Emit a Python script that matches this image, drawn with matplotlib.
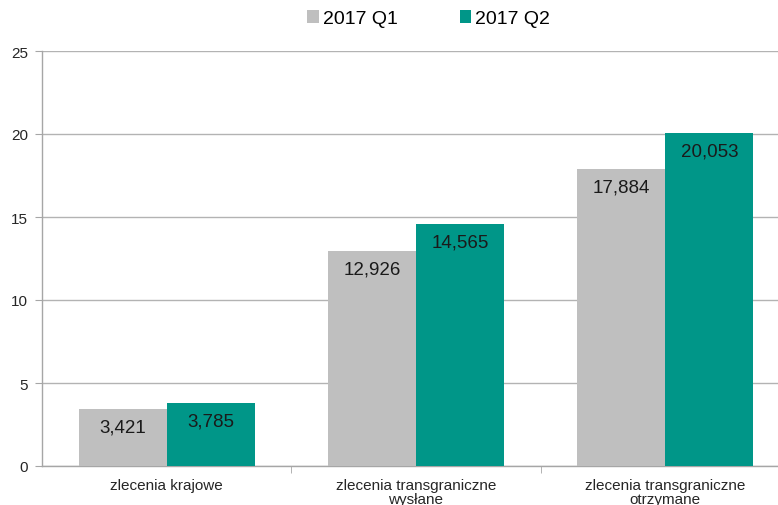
import numpy as np
import matplotlib.pyplot as plt
from matplotlib import rcParams

rcParams['font.family'] = ['Liberation Sans', 'DejaVu Sans']

categories = ['zlecenia krajowe', 'zlecenia transgraniczne\nwysłane',
              'zlecenia transgraniczne\notrzymane']
q1 = [3.421, 12.926, 17.884]
q2 = [3.785, 14.565, 20.053]
series_names = ['2017 Q1', '2017 Q2']
colors = ['#bfbfbf', '#009688']

fig = plt.figure(figsize=(7.78, 5.06), dpi=100)
ax = fig.add_axes([42 / 778, 39 / 506, 748 / 778, 415 / 506])

x = np.arange(len(categories))
w = 0.353
b1 = ax.bar(x - w / 2, q1, w, color=colors[0], label=series_names[0], zorder=3)
b2 = ax.bar(x + w / 2, q2, w, color=colors[1], label=series_names[1], zorder=3)

# value labels inside the bar tops, comma as decimal separator
for bars, vals in [(b1, q1), (b2, q2)]:
    for rect, v in zip(bars, vals):
        ax.annotate(f'{v:.3f}'.replace('.', ','),
                    xy=(rect.get_x() + rect.get_width() / 2, v),
                    xytext=(0, -18), textcoords='offset pixels',
                    ha='center', va='center', fontsize=13.5, color='#1a1a1a', zorder=4)

ax.set_xlim(-0.5, 2.5)
ax.set_ylim(0, 25)
ax.set_yticks(range(0, 26, 5))
ax.yaxis.grid(True, color='#b3b3b3', linewidth=1, zorder=0)
ax.set_xticks(x)
ax.set_xticklabels(categories, fontsize=11, color='#262626', linespacing=0.95)
ax.set_xticks([0.5, 1.5], minor=True)
ax.tick_params(axis='x', which='major', length=0, pad=9)
ax.tick_params(axis='x', which='minor', length=5, color='#a6a6a6')
ax.tick_params(axis='y', length=5, color='#a6a6a6', labelsize=11, labelcolor='#262626', pad=5)

for s in ['top', 'right']:
    ax.spines[s].set_visible(False)
for s in ['left', 'bottom']:
    ax.spines[s].set_color('#a6a6a6')
    ax.spines[s].set_linewidth(1)

ax.legend(loc='lower center', bbox_to_anchor=(0.517, 1.015), ncol=2, frameon=False,
          fontsize=14, handlelength=0.6, handleheight=0.6, handletextpad=0.2,
          columnspacing=3.2)

fig.savefig('out.png', dpi=100)
